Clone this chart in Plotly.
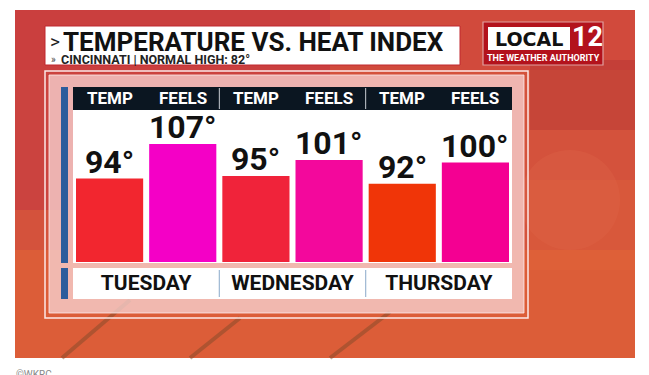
import plotly.graph_objects as go

# ---- data ----
days = ["TUESDAY", "WEDNESDAY", "THURSDAY"]
temp_vals = [94, 95, 92]
feels_vals = [107, 101, 100]
temp_colors = ["#F2262F", "#F0233A", "#F03508"]
feels_colors = ["#F400C6", "#F3089C", "#F40092"]
series_names = ["TEMP", "FEELS"]
title_text = "TEMPERATURE VS. HEAT INDEX"
subtitle_text = "CINCINNATI | NORMAL HIGH: 82°"

W, H = 649, 375


def fx(px):
    return px / W


def fy(py):
    return 1 - py / H


def rect(x0, y0, x1, y1, fill, line=None, lw=0, layer="below"):
    return dict(type="rect", xref="paper", yref="paper",
                x0=fx(x0), x1=fx(x1), y0=fy(y1), y1=fy(y0),
                fillcolor=fill, line=dict(color=line or "rgba(0,0,0,0)", width=lw),
                layer=layer)


FONT = "Roboto, sans-serif"
SLOT = 36.6  # bar centre offset from category centre, in px (style)

fig = go.Figure()
for name, vals, cols in [(series_names[0], temp_vals, temp_colors),
                         (series_names[1], feels_vals, feels_colors)]:
    fig.add_trace(go.Bar(
        name=name, x=days, y=vals,
        marker=dict(color=cols, line=dict(width=0)),
        hovertemplate="%{x} " + name + ": %{y}°<extra></extra>",
    ))

shapes = []
# background picture area
shapes.append(rect(15, 10, 635, 358, "#D4523C"))
shapes.append(rect(15, 10, 330, 210, "rgba(185,40,70,0.35)"))
shapes.append(rect(15, 10, 635, 70, "rgba(200,50,60,0.25)"))
shapes.append(rect(530, 60, 635, 130, "rgba(160,35,45,0.28)"))
shapes.append(rect(15, 250, 635, 358, "rgba(235,115,50,0.35)"))
shapes.append(dict(type="circle", xref="paper", yref="paper", layer="below",
                   x0=fx(520), x1=fx(620), y0=fy(250), y1=fy(150),
                   fillcolor="rgba(235,125,90,0.15)", line=dict(width=0)))
shapes.append(rect(530, 180, 635, 270, "rgba(230,110,60,0.22)"))
for (xa, ya, xb, yb) in [(62, 358, 130, 300), (330, 358, 390, 312), (190, 358, 240, 318)]:
    shapes.append(dict(type="line", xref="paper", yref="paper",
                       x0=fx(xa), y0=fy(ya), x1=fx(xb), y1=fy(yb),
                       line=dict(color="rgba(120,70,40,0.45)", width=4), layer="below"))
# panel
shapes.append(rect(45, 71, 528, 318, "rgba(0,0,0,0)", "rgba(255,240,240,0.95)", 1.5))
shapes.append(rect(49, 75, 524, 313, "rgba(248,215,215,0.75)", "rgba(255,235,235,0.8)", 1))
# title box
shapes.append(rect(45, 26, 460, 65, "#FFFFFF", "#C0282E", 1))
# logo
shapes.append(rect(483, 22, 603, 65, "#B3121C", "#E0A0A0", 1.2))
shapes.append(rect(488, 27, 570, 50, "#FFFFFF"))
# chart frame
shapes.append(rect(61, 87, 68, 263, "#2C5C9C"))
shapes.append(rect(73, 87, 512, 110, "#0B1621"))
shapes.append(rect(73, 110, 512, 263, "#FFFFFF"))
shapes.append(rect(61, 268, 68, 299, "#2C5C9C"))
shapes.append(rect(73, 268, 512, 299, "#FFFFFF"))
# separators between days (category boundaries)
for b in [0.5, 1.5]:
    shapes.append(dict(type="line", xref="x", yref="paper", x0=b, x1=b,
                       y0=fy(109), y1=fy(88), line=dict(color="#C8CCD2", width=1), layer="above"))
    shapes.append(dict(type="line", xref="x", yref="paper", x0=b, x1=b,
                       y0=fy(297), y1=fy(270), line=dict(color="#9DB7D2", width=1.2), layer="above"))

annotations = []
# title
annotations.append(dict(xref="paper", yref="paper", x=fx(48), y=fy(42), xanchor="left", yanchor="middle",
                        text=">", showarrow=False,
                        font=dict(family=FONT, size=19, color="#222222")))
annotations.append(dict(xref="paper", yref="paper", x=fx(61), y=fy(42), xanchor="left", yanchor="middle",
                        text=title_text, showarrow=False, height=28,
                        font=dict(family=FONT, size=26, color="#111111", weight=700)))
annotations.append(dict(xref="paper", yref="paper", x=fx(49), y=fy(59), xanchor="left", yanchor="middle",
                        text="»", showarrow=False,
                        font=dict(family=FONT, size=10, color="#444444")))
annotations.append(dict(xref="paper", yref="paper", x=fx(59), y=fy(59), xanchor="left", yanchor="middle",
                        text=subtitle_text, showarrow=False, height=13,
                        font=dict(family=FONT, size=12.5, color="#222222", weight=700)))
# logo texts
annotations.append(dict(xref="paper", yref="paper", x=fx(529), y=fy(38.5), xanchor="center", yanchor="middle",
                        text="LOCAL", showarrow=False,
                        font=dict(family="DejaVu Sans, sans-serif", size=19, color="#111111", weight=700)))
annotations.append(dict(xref="paper", yref="paper", x=fx(587), y=fy(37.5), xanchor="center", yanchor="middle",
                        text="12", showarrow=False,
                        font=dict(family=FONT, size=27, color="#FFFFFF", weight=700)))
annotations.append(dict(xref="paper", yref="paper", x=fx(543), y=fy(58), xanchor="center", yanchor="middle",
                        text="THE WEATHER AUTHORITY", showarrow=False,
                        font=dict(family=FONT, size=9, color="#FFFFFF", weight=700)))
# header series names and value labels
for i, d in enumerate(days):
    for name, shift, vals in zip(series_names, [-SLOT, SLOT], [temp_vals, feels_vals]):
        annotations.append(dict(xref="x", yref="paper", x=d, xshift=shift, y=fy(98.5),
                                xanchor="center", yanchor="middle", text=name, showarrow=False,
                                font=dict(family=FONT, size=17, color="#FFFFFF", weight=700)))
        annotations.append(dict(xref="x", yref="y", x=d, xshift=shift, y=vals[i], yshift=-4,
                                xanchor="center", yanchor="bottom", text=f"{vals[i]}°", showarrow=False,
                                font=dict(family=FONT, size=32, color="#111111", weight=700)))
# caption
annotations.append(dict(xref="paper", yref="paper", x=fx(14), y=fy(367), xanchor="left", yanchor="top",
                        text="©WKRC", showarrow=False,
                        font=dict(family=FONT, size=10, color="#888888")))

fig.update_layout(
    width=W, height=H,
    margin=dict(l=0, r=0, t=0, b=0),
    paper_bgcolor="#FFFFFF", plot_bgcolor="rgba(0,0,0,0)",
    barmode="group", bargap=0.0, bargroupgap=0.082,
    showlegend=False, hovermode=False,
    shapes=shapes, annotations=annotations,
    xaxis=dict(domain=[fx(73), fx(512)], showgrid=False, zeroline=False, showline=False,
               ticks="", ticklabelstandoff=6,
               tickfont=dict(family=FONT, size=21, color="#111111", weight=700)),
    yaxis=dict(domain=[fy(262), fy(110)], range=[62.6, 119.8], visible=False,
               showgrid=False, zeroline=False),
)

fig.write_html("out.html", config={"displayModeBar": False},
               post_script="document.body.style.margin='0px';")
